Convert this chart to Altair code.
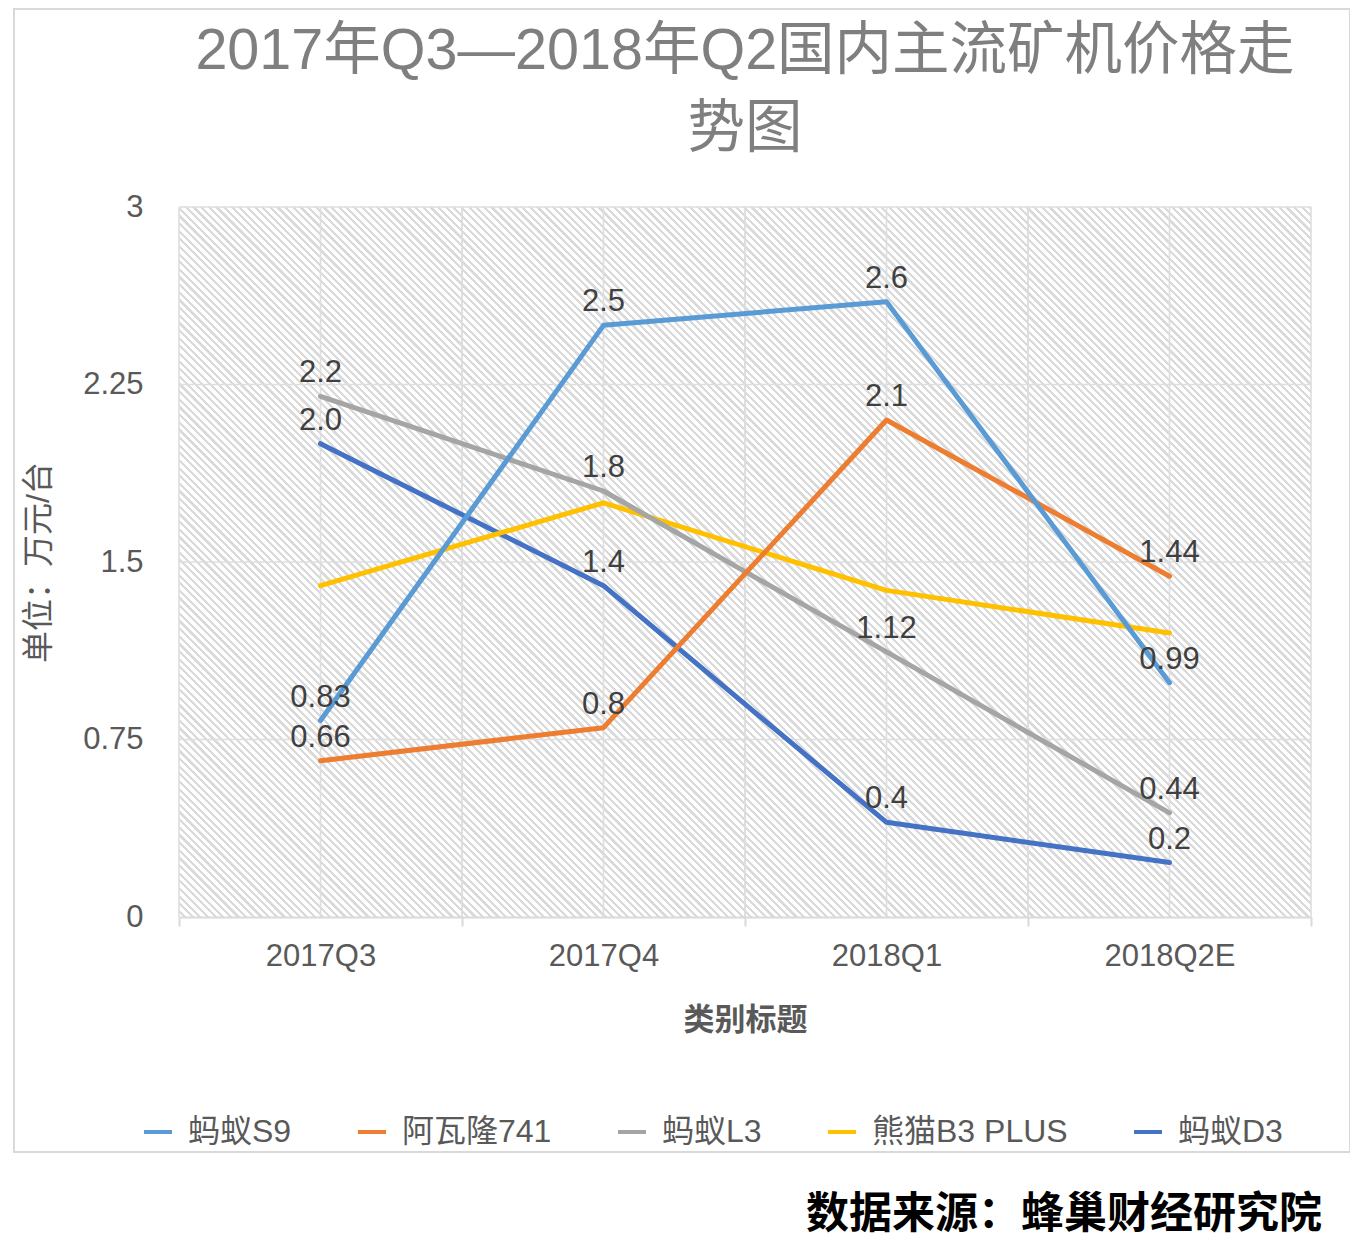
import altair as alt
import numpy as np
import pandas as pd

# ---------------- data ----------------
categories = ["2017Q3", "2017Q4", "2018Q1", "2018Q2E"]
series_names = ["蚂蚁S9", "阿瓦隆741", "蚂蚁L3", "熊猫B3 PLUS", "蚂蚁D3"]
s9_values = [0.83, 2.5, 2.6, 0.99]
a741_values = [0.66, 0.8, 2.1, 1.44]
l3_values = [2.2, 1.8, 1.12, 0.44]
b3_values = [1.4, 1.75, 1.38, 1.2]
d3_values = [2.0, 1.4, 0.4, 0.23]
s9_labels = ["0.83", "2.5", "2.6", "0.99"]
a741_labels = ["0.66", "0.8", "2.1", "1.44"]
l3_labels = ["2.2", "1.8", "1.12", "0.44"]
b3_labels = ["", "", "", ""]
d3_labels = ["2.0", "1.4", "0.4", "0.2"]
series_colors = ["#5B9BD5", "#ED7D31", "#A5A5A5", "#FFC000", "#4472C4"]
y_ticks = [0, 0.75, 1.5, 2.25, 3]
grid_values = [0.75, 1.5, 2.25, 3]
title_lines = ["2017年Q3—2018年Q2国内主流矿机价格走", "势图"]
x_title = "类别标题"
y_title = "单位：万元/台"
source_text = "数据来源：蜂巢财经研究院"

values_list = [s9_values, a741_values, l3_values, b3_values, d3_values]
labels_list = [s9_labels, a741_labels, l3_labels, b3_labels, d3_labels]

rows = []
# reverse order so that the first series is drawn on top
for name, vals, labs in reversed(list(zip(series_names, values_list, labels_list))):
    for c, v, lab in zip(categories, vals, labs):
        rows.append({"cat": c, "value": v, "series": name, "label": lab})
df = pd.DataFrame(rows)
label_df = df[df["label"] != ""]
cat_df = pd.DataFrame({"cat": categories})
grid_df = pd.DataFrame({"value": grid_values})

# ---------------- style ----------------
FONT = "Liberation Sans, Noto Sans CJK SC"
W, H = 1132, 710
GRID = "#dedede"

x_scale = alt.Scale(type="band", paddingInner=0, paddingOuter=0)
y_scale = alt.Scale(domain=[0, 3], nice=False, zero=True)

# diagonal hatch as a striped linear gradient
r = H / W
s = (1 + r) / (1 + r * r)
period = 5.4
n_stripes = int(round((W + H) / np.sqrt(2) / period))
stops = []
for k in range(n_stripes):
    a = k / n_stripes
    b = (k + 0.58) / n_stripes
    c = (k + 1) / n_stripes
    stops += [
        alt.GradientStop(offset=a, color="#ffffff"),
        alt.GradientStop(offset=b, color="#ffffff"),
        alt.GradientStop(offset=b, color="#dadada"),
        alt.GradientStop(offset=c, color="#dadada"),
    ]
hatch_fill = alt.LinearGradient(gradient="linear", stops=stops, x1=0, y1=1, x2=s, y2=1 - s * r)

x_axis = alt.Axis(
    title=x_title, tickBand="extent", grid=False, labelAngle=0,
    domainColor="#d9d9d9", domainWidth=2, tickColor="#d9d9d9", tickWidth=2, tickSize=9,
    labelFont=FONT, labelFontSize=31, labelColor="#595959", labelPadding=15,
    titleFont=FONT, titleFontSize=31, titleFontWeight="bold", titleColor="#595959",
    titleY=103, titleBaseline="middle", zindex=1,
)
y_axis = alt.Axis(
    values=y_ticks, format=".3~g", grid=False, ticks=False, domain=False,
    labelFont=FONT, labelFontSize=31, labelColor="#595959", labelPadding=36,
    title=y_title, titleFont=FONT, titleFontSize=32, titleColor="#595959",
    titleFontWeight="normal", titleX=-141, titleY=355, titleAngle=-90,
    titleAlign="center", titleBaseline="middle",
)


def xenc(pos):
    return alt.X("cat:N", sort=categories, scale=x_scale, bandPosition=pos, axis=x_axis)


yenc = alt.Y("value:Q", scale=y_scale, axis=y_axis)

one = alt.Data(values=[{}])

frame = alt.Chart(one).mark_rect(
    fill="#ffffff", fillOpacity=0, stroke="#d9d9d9", strokeWidth=2
).encode(x=alt.value(-165), x2=alt.value(1171), y=alt.value(-198), y2=alt.value(945))

hatch = alt.Chart(one).mark_rect(fill=hatch_fill, strokeWidth=0).encode(
    x=alt.value(0), x2=alt.value("width"), y=alt.value(0), y2=alt.value("height")
)


def vrule(pos):
    return alt.Chart(cat_df).mark_rule(color=GRID, strokeWidth=1.6).encode(
        x=xenc(pos), y=alt.value(0), y2=alt.value("height")
    )


hgrid = alt.Chart(grid_df).mark_rule(color=GRID, strokeWidth=1.6).encode(
    y=yenc, x=alt.value(0), x2=alt.value("width")
)

lines = alt.Chart(df).mark_line(strokeWidth=5, strokeCap="round", strokeJoin="round").encode(
    x=xenc(0.5),
    y=yenc,
    color=alt.Color(
        "series:N",
        scale=alt.Scale(domain=series_names, range=series_colors),
        legend=alt.Legend(
            title=None, orient="none", legendX=-37, legendY=909, direction="horizontal",
            columns=5, symbolType="stroke", symbolSize=784, symbolStrokeWidth=4,
            labelFont=FONT, labelFontSize=32, labelColor="#595959", labelOffset=14,
            labelLimit=400, columnPadding=58, padding=0,
        ),
    ),
)

texts = alt.Chart(label_df).mark_text(
    font=FONT, fontSize=31, color="#404040", dy=-23, baseline="middle"
).encode(x=xenc(0.5), y=yenc, text="label:N")

source = alt.Chart(one).mark_text(
    text=source_text, font="Noto Sans CJK SC", fontSize=43, fontWeight="bold",
    color="#000000", align="right", baseline="middle",
).encode(x=alt.value(1143), y=alt.value(1008))

chart = alt.layer(
    frame, hatch, vrule(0), vrule(0.5), vrule(1), hgrid, lines, texts, source
).properties(
    width=W,
    height=H,
    title=alt.TitleParams(
        text=title_lines, font=FONT, fontSize=57.5, fontWeight="normal", color="#7f7f7f",
        lineHeight=78, anchor="middle", offset=48, dy=199,
    ),
    autosize=alt.AutoSizeParams(type="none"),
    padding={"left": 171, "top": 199, "right": 39, "bottom": 329},
    background="#ffffff",
).configure_view(strokeWidth=0)

chart.save("out.html", embed_options={"renderer": "svg", "actions": False})
